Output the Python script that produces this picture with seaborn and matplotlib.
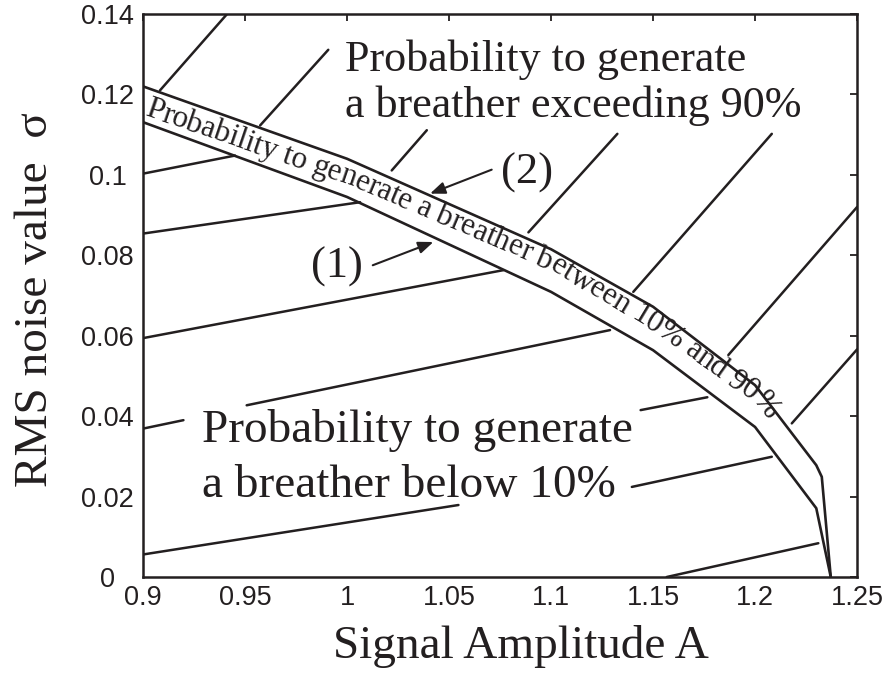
import numpy as np
import pandas as pd
import matplotlib
matplotlib.use("Agg")
import matplotlib.pyplot as plt
import seaborn as sns
from matplotlib.font_manager import FontProperties, findfont
from matplotlib.ft2font import FT2Font

# ---------------- data ----------------
amp_upper = [0.9, 1.0, 1.1, 1.15, 1.2, 1.23, 1.2327, 1.2371]
sigma_upper = [0.1220, 0.1040, 0.0815, 0.0672, 0.0477, 0.0278, 0.0249, 0.0]
amp_lower = [0.9, 1.0, 1.1, 1.15, 1.2, 1.23, 1.2371]
sigma_lower = [0.1131, 0.0945, 0.0709, 0.0564, 0.0373, 0.0171, 0.0]

# hatch segments (data units)
hatch_x0 = [0.9083, 0.9574, 1.0219, 1.0889, 1.1403, 1.1869, 1.2180,
            0.9, 0.9, 0.9, 0.9508, 0.9, 1.1439, 1.1396, 0.9, 1.1567]
hatch_y0 = [0.1210, 0.1123, 0.1011, 0.0857, 0.0709, 0.0552, 0.0382,
            0.1003, 0.0854, 0.0594, 0.0427, 0.0369, 0.0415, 0.0224, 0.0056, 0.0]
hatch_x1 = [0.9412, 0.9908, 1.0391, 1.1325, 1.2082, 1.2500, 1.2500,
            0.9451, 1.0064, 1.0766, 1.1289, 0.9198, 1.1766, 1.2082, 1.0546, 1.2310]
hatch_y1 = [0.1400, 0.1311, 0.1111, 0.1102, 0.1102, 0.0920, 0.0566,
            0.1048, 0.0932, 0.0763, 0.0614, 0.0390, 0.0447, 0.0299, 0.0179, 0.0084]

x_ticks = [0.9, 0.95, 1.0, 1.05, 1.1, 1.15, 1.2, 1.25]
x_tick_labels = ["0.9", "0.95", "1", "1.05", "1.1", "1.15", "1.2", "1.25"]
y_ticks = [0, 0.02, 0.04, 0.06, 0.08, 0.1, 0.12, 0.14]
y_tick_labels = ["0", "0.02", "0.04", "0.06", "0.08", "0.1", "0.12", "0.14"]

band_text = "Probability to generate a breather between 10% and 90%"
# relative height of the band-text baseline inside the band (0=curve 1, 1=curve 2)
band_f_x = [0.9, 1.0, 1.1, 1.15, 1.2, 1.23]
band_f = [0.20, 0.33, 0.50, 0.42, 0.55, 0.60]

INK = "#231f20"

# ---------------- figure ----------------
sns.set_theme(style="white")
plt.rcParams["font.family"] = ["Liberation Serif", "DejaVu Serif"]
plt.rcParams["axes.edgecolor"] = INK

fig = plt.figure(figsize=(8.94, 6.83), dpi=100)
ax = fig.add_axes([0.16, 0.1552, 0.7987, 0.8243])

lw_curve = 1.9
df_up = pd.DataFrame({"A": amp_upper, "s": sigma_upper})
df_lo = pd.DataFrame({"A": amp_lower, "s": sigma_lower})
sns.lineplot(data=df_up, x="A", y="s", ax=ax, color=INK, lw=lw_curve,
             sort=False, estimator=None)
sns.lineplot(data=df_lo, x="A", y="s", ax=ax, color=INK, lw=lw_curve,
             sort=False, estimator=None)

seg_rows = []
for i, (a, b, c, d) in enumerate(zip(hatch_x0, hatch_y0, hatch_x1, hatch_y1)):
    seg_rows.append({"seg": i, "A": a, "s": b})
    seg_rows.append({"seg": i, "A": c, "s": d})
df_h = pd.DataFrame(seg_rows)
sns.lineplot(data=df_h, x="A", y="s", units="seg", estimator=None, sort=False,
             ax=ax, color=INK, lw=1.8)

ax.set_xlim(0.9, 1.25)
ax.set_ylim(0, 0.14)
ax.set_xticks(x_ticks)
ax.set_xticklabels(x_tick_labels)
ax.set_yticks(y_ticks)
ax.set_yticklabels(y_tick_labels)
for sp in ax.spines.values():
    sp.set_linewidth(1.8)
    sp.set_color(INK)
ax.tick_params(direction="in", top=True, right=True, length=5, width=1.3,
               colors=INK, labelsize=19.5, labelfontfamily="Liberation Sans")
ax.tick_params(axis="x", pad=6)
ax.tick_params(axis="y", pad=25.5)
for lbl in ax.get_yticklabels():
    lbl.set_horizontalalignment("center")

ax.set_xlabel("Signal Amplitude A", fontsize=34, color=INK, va="baseline")
ax.xaxis.set_label_coords(0.529, -0.1437)
ax.set_ylabel("RMS noise value  \u03c3", fontsize=34, color=INK, va="baseline")
ax.yaxis.set_label_coords(-0.1345, 0.4934)

# ---------------- annotations ----------------
ax.text(0.9990, 0.12571, "Probability to generate", fontsize=31.8, color=INK,
        ha="left", va="baseline")
ax.text(0.9990, 0.11429, "a breather exceeding 90%", fontsize=31.8, color=INK,
        ha="left", va="baseline")
ax.text(0.92877, 0.03361, "Probability to generate", fontsize=34, color=INK,
        ha="left", va="baseline")
ax.text(0.92877, 0.01995, "a breather below 10%", fontsize=34, color=INK,
        ha="left", va="baseline")

ax.text(1.0881, 0.10045, "(2)", fontsize=32, color=INK, ha="center", va="center")
ax.text(0.99495, 0.07710, "(1)", fontsize=32, color=INK, ha="center", va="center")
arrow_kw = dict(arrowstyle="-|>,head_length=0.5,head_width=0.2", color=INK,
                lw=1.5, mutation_scale=18, shrinkA=0, shrinkB=0)
ax.annotate("", xy=(1.04069, 0.09533), xytext=(1.0709, 0.10129), arrowprops=arrow_kw)
ax.annotate("", xy=(1.04231, 0.08330), xytext=(1.01260, 0.07752), arrowprops=arrow_kw)

# ---------------- text along the band ----------------
fig.canvas.draw()
bx = np.array(band_f_x)
up_i = np.interp(bx, amp_upper, sigma_upper)
lo_i = np.interp(bx, amp_lower, sigma_lower)
by = lo_i + np.array(band_f) * (up_i - lo_i)
pts = ax.transData.transform(np.column_stack([bx, by]))
seg = np.diff(pts, axis=0)
seglen = np.hypot(seg[:, 0], seg[:, 1])
cum = np.concatenate([[0.0], np.cumsum(seglen)])

band_fs = 22.5
prop = FontProperties(family="Liberation Serif", size=band_fs)
font = FT2Font(findfont(prop))
font.set_size(band_fs, fig.dpi)
advances = []
for ch in band_text:
    g = font.load_char(ord(ch))
    advances.append(g.linearHoriAdvance / 65536.0)
advances = np.array(advances) * 0.985
lefts = np.concatenate([[0.0], np.cumsum(advances)[:-1]]) + 1.0
centers = lefts + advances / 2

inv = ax.transData.inverted()
for ch, s in zip(band_text, centers):
    if ch == " ":
        continue
    k = int(np.clip(np.searchsorted(cum, s) - 1, 0, len(seglen) - 1))
    t = (s - cum[k]) / seglen[k]
    p = pts[k] + t * seg[k]
    ang = np.degrees(np.arctan2(seg[k][1], seg[k][0]))
    xd, yd = inv.transform(p)
    ax.text(xd, yd, ch, fontsize=band_fs, color=INK, ha="center", va="baseline",
            rotation=ang, rotation_mode="anchor")

fig.savefig("out.png", dpi=100)
